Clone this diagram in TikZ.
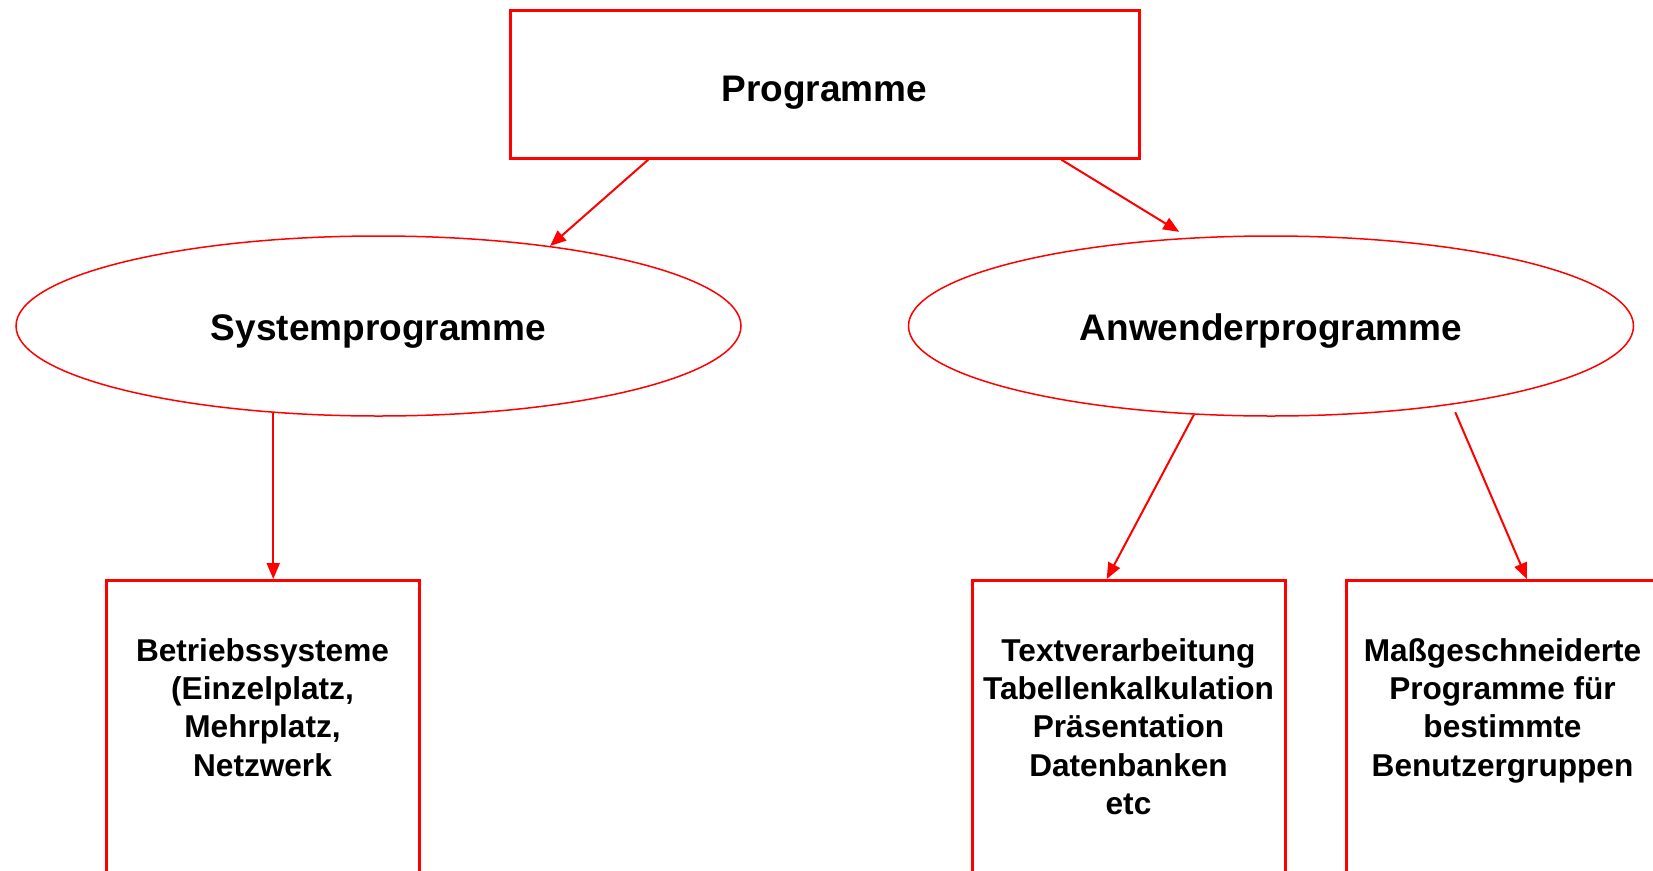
\documentclass[tikz,border=0pt]{standalone}
\usepackage{fontspec}
\setmainfont{Liberation Sans}
\usetikzlibrary{positioning,shapes.geometric,arrows.meta,calc}
\tikzset{
  progbox/.style={draw=red, line width=3pt, minimum width=629pt, minimum height=148pt, inner sep=0pt, text height=34pt, text depth=0pt, font=\fontsize{37pt}{44pt}\selectfont\bfseries},
  progoval/.style={ellipse, draw=red, line width=1.5pt, minimum width=725pt, minimum height=180pt, inner sep=0pt, text height=28pt, text depth=0pt, font=\fontsize{37pt}{44pt}\selectfont\bfseries},
  leafbox/.style={draw=red, line width=3pt, minimum width=313pt, minimum height=330pt, anchor=north, inner sep=0pt},
  leaftext/.style={align=center, inner sep=0pt, font=\fontsize{31.6pt}{38.4pt}\selectfont\bfseries},
  progarrow/.style={draw=red, line width=2pt, -{Triangle[length=16pt,width=13pt]}}
}

\begin{document}
\begin{tikzpicture}[x=1pt,y=-1pt]
\path[use as bounding box] (0,0) rectangle (1653,870);
\clip (0,0) rectangle (1653,870);
\node[progbox] (prog) at (824.5,84.25) {Programme\hspace{8pt}};
\node[progoval] (sys) at (378.5,326) {Systemprogramme};
\node[progoval] (anw) at (1271,326) {Anwenderprogramme};
\node[leafbox] (bs) at (262.5,579) {};
\node[leafbox] (tv) at (1128.5,579) {};
\node[leafbox] (mg) at (1502.5,579) {};
\node[leaftext, below=59pt of bs.north] (bs-text) {Betriebssysteme\\(Einzelplatz,\\Mehrplatz,\\Netzwerk};
\node[leaftext, below=59pt of tv.north] (tv-text) {Textverarbeitung\\Tabellenkalkulation\\Präsentation\\Datenbanken\\etc};
\node[leaftext, below=59pt of mg.north] (mg-text) {Maßgeschneiderte\\Programme für\\bestimmte\\Benutzergruppen};
% connectors
\coordinate (bs-in) at ($(bs.north west)!0.534!(bs.north east)$);
\draw[progarrow] ($(prog.south west)!0.221!(prog.south east)$) -- (sys.25);
\draw[progarrow, shorten >=11pt] ($(prog.south west)!0.875!(prog.south east)$) -- (anw.133);
\draw[progarrow] (sys.219 -| bs-in) -- (bs-in);
\draw[progarrow] (anw.229) -- ($(tv.north west)!0.431!(tv.north east)$);
\draw[progarrow] ($(anw.-23)+(0,8)$) -- ($(mg.north west)!0.577!(mg.north east)$);
\end{tikzpicture}
\end{document}
